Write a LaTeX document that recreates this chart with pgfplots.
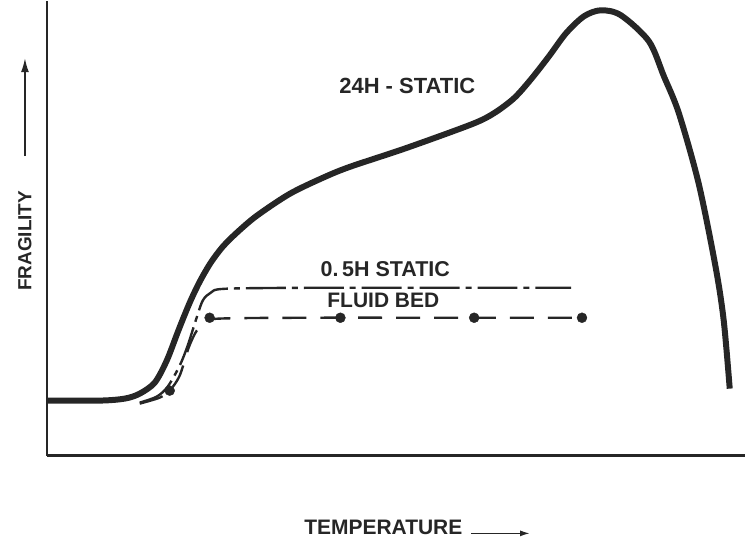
\documentclass[border=0pt]{standalone}
\usepackage{pgfplots}
\pgfplotsset{compat=1.18}
\usetikzlibrary{arrows.meta}
\usepackage{fontspec}
\setmainfont{Liberation Sans}
\begin{document}
\begin{tikzpicture}
\begin{axis}[
  scale only axis, width=699pt, height=455pt,
  xmin=0, xmax=699, ymin=0, ymax=455,
  axis lines*=left,
  axis line style={line width=2.6pt, color=black!85},
  xtick=\empty, ytick=\empty,
  clip=false,
]
% 24H static
\addplot[line width=6pt, color=black!85, smooth, tension=0.5] coordinates {
(0,55) (53,55) (78,57) (93,62) (108,73) (120,95) (132,126) (143,153) (153,174)
(164,193) (176,209) (190,223) (210,240) (243,262) (276,278) (303,289) (360,308)
(426,332) (448,343) (468,358) (485,377) (503,400) (520,423) (538,440) (555,446) (575,441)
(603,415) (618,380) (633,343) (653,272) (670,188) (678,135) (684,67)};
% 0.5H static
\addplot[line width=2.4pt, color=black!85, smooth, tension=0.5,
  dash pattern=on 40pt off 6pt on 6pt off 6pt] coordinates {
(93,53) (110,59) (121,69) (133,90) (141,110) (149,135) (156,155) (164,163) (178,167)
(260,168) (400,168) (525,168)};
% fluid bed
\addplot[line width=2.4pt, color=black!85, smooth, tension=0.5,
  dash pattern=on 24pt off 14pt] coordinates {
(93,52) (113,58) (123,65) (133,80) (142,108) (150,125) (158,132) (170,137)
(260,138) (400,138) (536,138)};
\addplot[only marks, mark=*, mark size=5pt, color=black!85] coordinates {
(123,65) (163,138) (294,138) (428,138) (536,138)};
% labels
\node[font=\fontsize{22}{26}\selectfont\bfseries, text=black!85] at (axis cs:361,370) {24H - STATIC};
\node[font=\fontsize{21.5}{26}\selectfont\bfseries, text=black!85] at (axis cs:339,187) {0.\,5H STATIC};
\node[font=\fontsize{21}{25}\selectfont\bfseries, text=black!85] at (axis cs:337,155) {FLUID BED};
\node[font=\fontsize{19}{23}\selectfont\bfseries, text=black!85, rotate=90] at (axis cs:-22,215) {FRAGILITY};
\draw[-{Latex[length=14pt,width=8pt]}, line width=1.6pt, black!85] (axis cs:-22,300) -- (axis cs:-22,398);
\node[font=\fontsize{21}{25}\selectfont\bfseries, text=black!85] at (axis cs:337,-72) {TEMPERATURE};
\draw[-{Latex[length=10pt,width=6pt]}, line width=1.6pt, black!85] (axis cs:425,-78) -- (axis cs:484,-78);
\path (axis cs:-47,-87) (axis cs:699,455);
\end{axis}
\end{tikzpicture}
\end{document}
